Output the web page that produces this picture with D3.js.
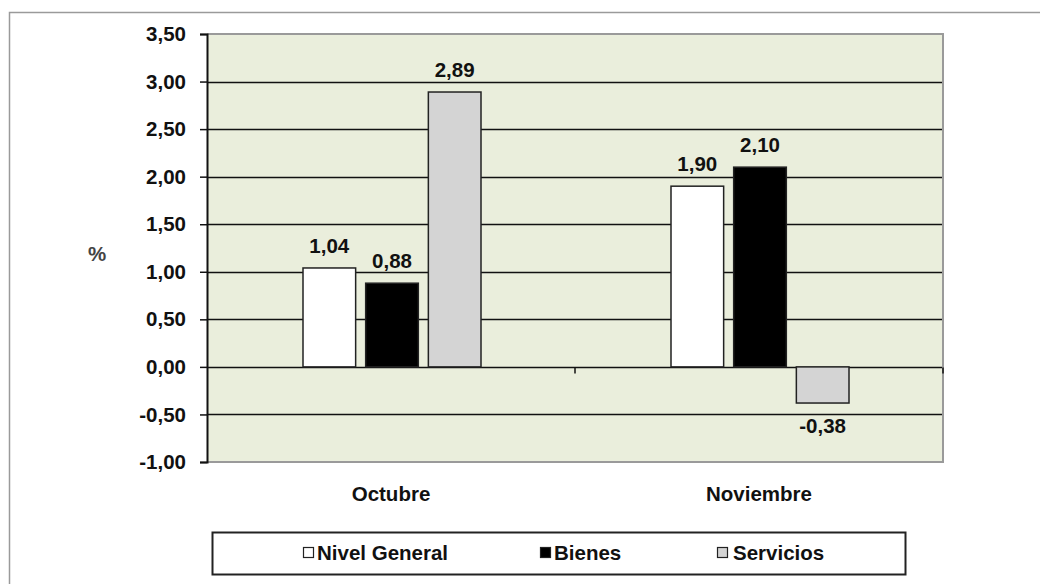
<!DOCTYPE html>
<html>
<head>
<meta charset="utf-8">
<script src="https://cdn.jsdelivr.net/npm/d3@7"></script>
<style>
  body { margin: 0; background: #fff; }
  text { font-family: "Liberation Sans", Arial, sans-serif; font-weight: bold; }
</style>
</head>
<body>
<div id="chart"></div>
<script>
// data
const months = ["Octubre", "Noviembre"];
const seriesNames = ["Nivel General", "Bienes", "Servicios"];
const nivelGeneral = [1.04, 1.90];
const bienes = [0.88, 2.10];
const servicios = [2.89, -0.38];
const yTicks = [-1, -0.5, 0, 0.5, 1, 1.5, 2, 2.5, 3, 3.5];

const seriesValues = [nivelGeneral, bienes, servicios];
const seriesFill = ["#ffffff", "#000000", "#d4d4d4"];

const W = 1040, H = 584;
const plot = { left: 207, right: 943, top: 34, bottom: 462 };
const fontSize = 20.5;

const svg = d3.select("#chart").append("svg")
    .attr("width", W)
    .attr("height", H);

// outer frame
svg.append("rect")
    .attr("x", 9.5).attr("y", 12.5)
    .attr("width", W + 20).attr("height", H + 20)
    .attr("fill", "none")
    .attr("stroke", "#9a9a9a")
    .attr("stroke-width", 1.5);

// scales
const y = d3.scaleLinear().domain([-1, 3.5]).range([plot.bottom, plot.top]);
const x0 = d3.scaleBand().domain(months).range([plot.left, plot.right]);
const x1 = d3.scaleBand().domain(seriesNames).range([96, 274]).paddingInner(0.16);

const fmt = v => d3.format(".2f")(v).replace(".", ",").replace("−", "-");

// plot background
svg.append("rect")
    .attr("x", plot.left).attr("y", plot.top)
    .attr("width", plot.right - plot.left).attr("height", plot.bottom - plot.top)
    .attr("fill", "#eaeedc");

// gridlines
svg.append("g")
    .selectAll("line")
    .data(yTicks.filter(d => d > -1 && d < 3.5))
    .join("line")
    .attr("x1", plot.left).attr("x2", plot.right)
    .attr("y1", d => Math.round(y(d)) + 0.5).attr("y2", d => Math.round(y(d)) + 0.5)
    .attr("stroke", "#111")
    .attr("stroke-width", 1.6);

// plot border (top, right, bottom)
svg.append("path")
    .attr("d", `M${plot.left},${plot.top}H${plot.right}V${plot.bottom}H${plot.left}`)
    .attr("fill", "none")
    .attr("stroke", "#9a9a9a")
    .attr("stroke-width", 2);

// category axis ticks at zero
const y0 = Math.round(y(0)) + 0.5;
svg.append("g")
    .selectAll("line")
    .data([plot.left + x0.bandwidth(), plot.right])
    .join("line")
    .attr("x1", d => d).attr("x2", d => d)
    .attr("y1", y0).attr("y2", y0 + 6)
    .attr("stroke", "#111")
    .attr("stroke-width", 1.5);

// bars
const groups = svg.append("g")
    .selectAll("g")
    .data(months)
    .join("g")
    .attr("transform", d => `translate(${x0(d)},0)`);

groups.selectAll("rect")
    .data((m, mi) => seriesNames.map((s, si) => ({ s, si, v: seriesValues[si][mi] })))
    .join("rect")
    .attr("x", d => x1(d.s))
    .attr("width", x1.bandwidth())
    .attr("y", d => y(Math.max(0, d.v)))
    .attr("height", d => Math.abs(y(d.v) - y(0)))
    .attr("fill", d => seriesFill[d.si])
    .attr("stroke", "#222")
    .attr("stroke-width", 1.5);

groups.selectAll("text")
    .data((m, mi) => seriesNames.map((s, si) => ({ s, si, v: seriesValues[si][mi] })))
    .join("text")
    .attr("x", d => x1(d.s) + x1.bandwidth() / 2)
    .attr("y", d => d.v >= 0 ? y(d.v) - 15 : y(d.v) + 30)
    .attr("text-anchor", "middle")
    .attr("font-size", fontSize)
    .attr("fill", "#111")
    .text(d => fmt(d.v));

// y axis
const yAxis = svg.append("g")
    .attr("transform", `translate(${plot.left},0)`)
    .call(d3.axisLeft(y).tickValues(yTicks).tickSize(7).tickPadding(14).tickFormat(fmt));
yAxis.select(".domain").attr("stroke", "#111").attr("stroke-width", 2);
yAxis.selectAll(".tick line").attr("stroke", "#111").attr("stroke-width", 1.5);
yAxis.selectAll(".tick text")
    .attr("font-size", fontSize)
    .attr("fill", "#111")
    .style("font-family", "'Liberation Sans', Arial, sans-serif")
    .style("font-weight", "bold");

// y label
svg.append("text")
    .attr("x", 97).attr("y", 261)
    .attr("text-anchor", "middle")
    .attr("font-size", fontSize)
    .attr("fill", "#444")
    .text("%");

// category labels
svg.append("g")
    .selectAll("text")
    .data(months)
    .join("text")
    .attr("x", d => x0(d) + x0.bandwidth() / 2)
    .attr("y", 501)
    .attr("text-anchor", "middle")
    .attr("font-size", fontSize)
    .attr("fill", "#111")
    .text(d => d);

// legend
const legend = svg.append("g");
legend.append("rect")
    .attr("x", 212.5).attr("y", 532.5)
    .attr("width", 693).attr("height", 42)
    .attr("fill", "#fff")
    .attr("stroke", "#222")
    .attr("stroke-width", 2);

const legendX = [303, 540, 717];
const items = legend.selectAll("g.item")
    .data(seriesNames)
    .join("g")
    .attr("class", "item")
    .attr("transform", (d, i) => `translate(${legendX[i]},553)`);

items.append("rect")
    .attr("x", 0.5).attr("y", -5.5)
    .attr("width", 10).attr("height", 10)
    .attr("fill", (d, i) => seriesFill[i])
    .attr("stroke", "#222")
    .attr("stroke-width", 1.2);

items.append("text")
    .attr("x", (d, i) => i === 2 ? 16 : 14)
    .attr("y", 7)
    .attr("font-size", fontSize)
    .attr("fill", "#111")
    .text(d => d);
</script>
</body>
</html>
